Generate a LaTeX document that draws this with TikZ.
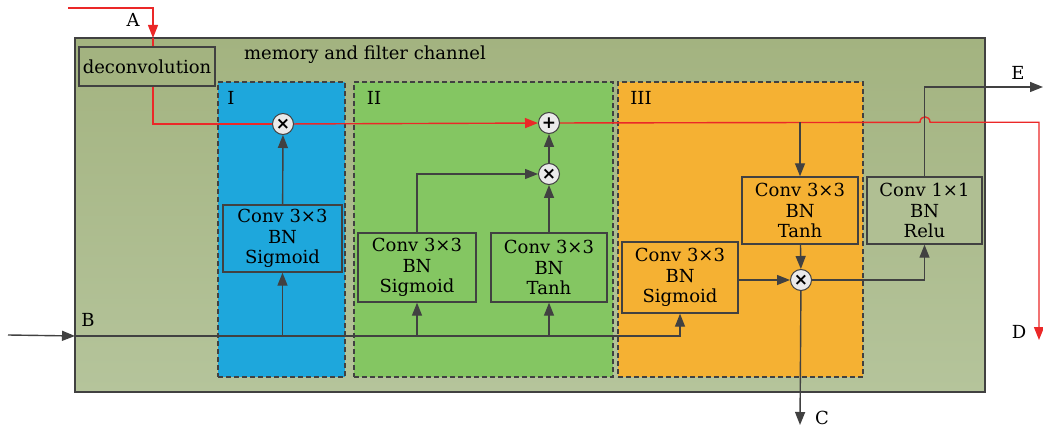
\documentclass[tikz,border=0pt]{standalone}
\usepackage{fontspec}
\setmainfont{DejaVu Serif}
\newfontfamily\symf{DejaVu Sans}
\usetikzlibrary{arrows.meta}
\definecolor{oliveA}{RGB}{163,179,128}
\definecolor{oliveB}{RGB}{181,196,155}
\definecolor{blueI}{RGB}{30,167,220}
\definecolor{greenII}{RGB}{132,198,98}
\definecolor{orangeIII}{RGB}{245,177,51}
\definecolor{linegray}{RGB}{65,65,65}
\definecolor{redl}{RGB}{235,40,40}
\definecolor{circfill}{RGB}{234,234,234}
\begin{document}
\begin{tikzpicture}[x=1pt,y=-1pt,
  font=\fontsize{18}{20.5}\selectfont,
  box/.style={draw=linegray,line width=1.4pt,align=center,inner sep=0pt},
  region/.style={draw=linegray,dash pattern=on 5pt off 3pt,line width=1.3pt,inner sep=0pt},
  op/.style={circle,draw=linegray,fill=circfill,line width=1pt,minimum size=21pt,inner sep=0pt,font=\symf\bfseries\fontsize{17}{17}\selectfont},
  conn/.style={draw=linegray,line width=1.4pt,-{Triangle[length=13pt,width=10pt]}},
  redc/.style={draw=redl,line width=1.4pt,-{Triangle[length=13pt,width=10pt]}},
  redp/.style={draw=redl,line width=1.4pt},
  lab/.style={inner sep=0pt}]
\useasboundingbox (0,0) rectangle (1043,430);
% outer channel
\node[draw=linegray,line width=1.3pt,top color=oliveA,bottom color=oliveB,minimum width=910pt,minimum height=354pt,inner sep=0pt] (outer) at (530,215) {};
\node[lab] (title) at (365,55) {memory and filter channel};
% regions
\node[region,fill=blueI,minimum width=127pt,minimum height=295pt] (r1) at (281.5,229.5) {};
\node[region,fill=greenII,minimum width=259pt,minimum height=295pt] (r2) at (483.5,229.5) {};
\node[region,fill=orangeIII,minimum width=245pt,minimum height=295pt] (r3) at (740.5,229.5) {};
\node[lab] (l1) at (231,98) {I};
\node[lab] (l2) at (374,98) {II};
\node[lab] (l3) at (641,98) {III};
% boxes
\node[box,fill=oliveA,minimum width=136pt,minimum height=39pt] (deconv) at (147,66.5) {deconvolution};
\node[box,fill=blueI,minimum width=119pt,minimum height=67pt] (c1) at (282.5,238.5) {Conv 3×3\\BN\\Sigmoid};
\node[box,fill=greenII,minimum width=118pt,minimum height=69pt] (sig2) at (417,267.5) {Conv 3×3\\BN\\Sigmoid};
\node[box,fill=greenII,minimum width=116pt,minimum height=69pt] (tanh2) at (549,267.5) {Conv 3×3\\BN\\Tanh};
\node[box,fill=orangeIII,minimum width=116pt,minimum height=67pt] (tanh3) at (800,210.5) {Conv 3×3\\BN\\Tanh};
\node[box,fill=orangeIII,minimum width=116pt,minimum height=71pt] (sig3) at (680,277.5) {Conv 3×3\\BN\\Sigmoid};
\node[box,fill=oliveB!70!oliveA,minimum width=115pt,minimum height=67pt] (relu) at (924.5,210.5) {Conv 1×1\\BN\\Relu};
% operators
\node[op] (m1) at (283,124) {×};
\node[op] (plus) at (549,123) {+};
\node[op] (m2) at (549,174) {×};
\node[op] (m3) at (801,280) {×};
% coordinates
\coordinate (Astart) at (68,8);
\coordinate (aIn) at (153,38);
\coordinate (Bstart) at (8,335);
\coordinate (Bin) at (75,336);
\coordinate (tIn) at (800,122.3);
\coordinate (jL) at (920,122.3);
\coordinate (jR) at (930,122.3);
\coordinate (Dcorner) at (1039,122.3);
\coordinate (Dend) at (1039,340);
\coordinate (Eend) at (1043,87);
\coordinate (Cend) at (800,425);
% labels
\node[lab] (la) at (133,20) {A};
\node[lab] (lb) at (88,320) {B};
\node[lab] (lc) at (822,418) {C};
\node[lab] (ld) at (1019,332) {D};
\node[lab] (le) at (1018,73) {E};
% red path
\draw[redc] (Astart) -| (aIn);
\draw[redp] (aIn) -- (aIn |- deconv.north);
\draw[redp] (aIn |- deconv.south) |- (m1);
\draw[redc] (m1) -- (plus);
\draw[redc] (plus) -- (jL) .. controls (920,115) and (930,115) .. (jR) -- (Dcorner) -- (Dend);
% gray connectors
\draw[conn] (c1) -- (m1);
\draw[conn] (sig2) |- (m2);
\draw[conn] (tanh2) -- (m2);
\draw[conn] (m2) -- (plus);
\draw[conn] (tIn) -- (tanh3);
\draw[conn] (tanh3) -- (m3);
\draw[conn] (sig3.east |- m3) -- (m3);
\draw[conn] (m3) -- (Cend);
\draw[conn] (m3) -| (relu);
\draw[conn] (relu) |- (Eend);
\draw[conn] (Bstart) -- (Bin);
\draw[conn] (Bin) -| (sig3);
\draw[conn] (c1 |- Bin) -- (c1);
\draw[conn] (sig2 |- Bin) -- (sig2);
\draw[conn] (tanh2 |- Bin) -- (tanh2);
\end{tikzpicture}
\end{document}
